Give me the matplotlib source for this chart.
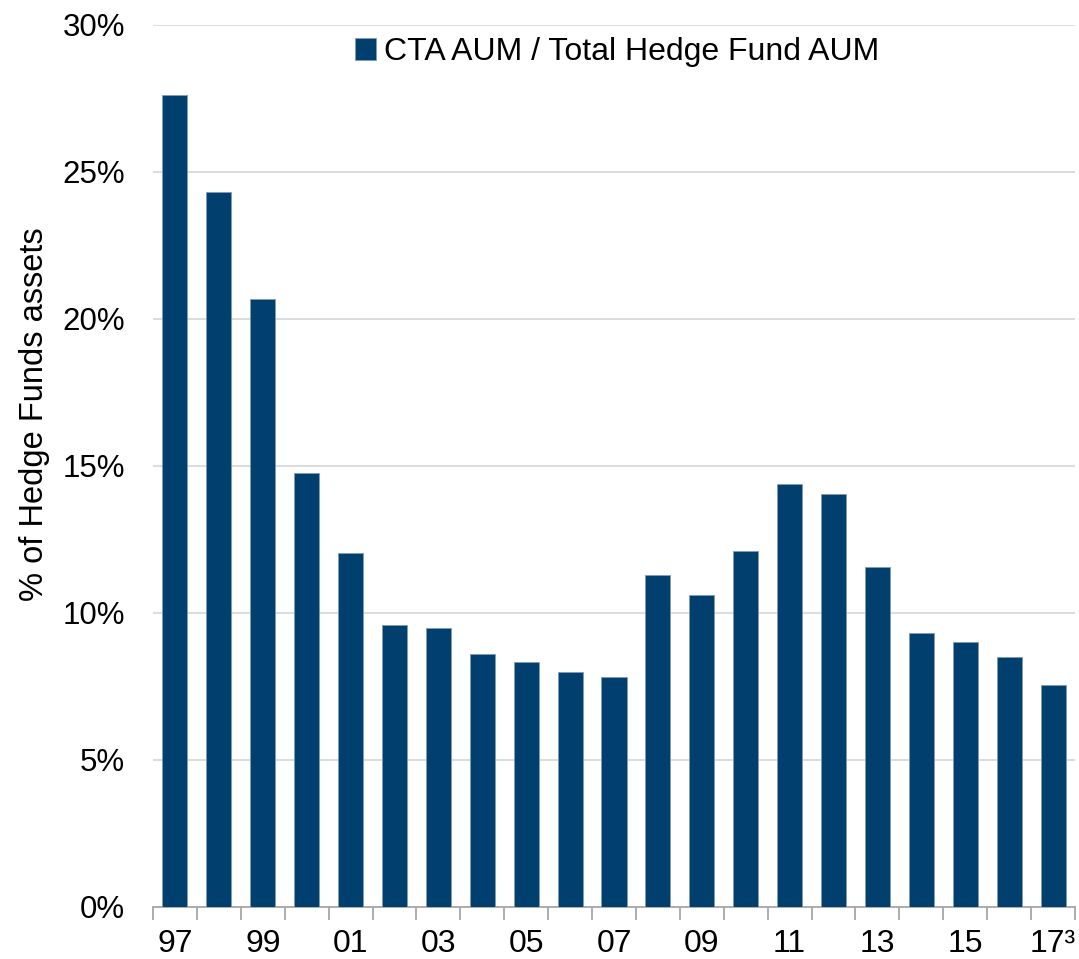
import matplotlib.pyplot as plt
import numpy as np

plt.rcParams['font.family'] = ['Liberation Sans', 'DejaVu Sans']

years = ['97', '98', '99', '00', '01', '02', '03', '04', '05', '06', '07',
         '08', '09', '10', '11', '12', '13', '14', '15', '16', '17³']
cta_share = [27.6, 24.3, 20.67, 14.74, 12.04, 9.58, 9.49, 8.59, 8.31, 7.99, 7.82,
             11.27, 10.59, 12.09, 14.37, 14.04, 11.57, 9.30, 9.00, 8.48, 7.54]
yticks = [0, 5, 10, 15, 20, 25, 30]

bar_color = '#003F6E'
grey = '#A6A6A6'

fig = plt.figure(figsize=(10.79, 9.59), dpi=100)
ax = fig.add_axes([0.1418, 0.0545, 0.8545, 0.9195])

x = np.arange(len(years))
ax.bar(x, cta_share, width=0.57, color=bar_color, edgecolor='#7F9BB5',
       linewidth=0.6, label='CTA AUM / Total Hedge Fund AUM', zorder=3)

ax.set_xlim(-0.5, len(years) - 0.5)
ax.set_ylim(0, 30)
ax.set_yticks(yticks)
ax.set_yticklabels([f'{t}%' for t in yticks], fontsize=22.5)
ax.tick_params(axis='y', length=0, pad=20)
ax.grid(axis='y', color='#D9D9D9', linewidth=1.3, zorder=0)

# boundary ticks, labels on every other category
ax.set_xticks(np.arange(-0.5, len(years), 1.0))
ax.set_xticklabels([])
ax.tick_params(axis='x', which='major', length=9, width=1.3, color=grey)
ax.set_xticks(x[::2], minor=True)
ax.set_xticklabels(years[::2], minor=True, fontsize=23)
ax.tick_params(axis='x', which='minor', length=0, pad=16)

for s in ['left', 'right', 'top']:
    ax.spines[s].set_visible(False)
ax.spines['bottom'].set_color(grey)
ax.spines['bottom'].set_linewidth(1.3)

fig.text(35 / 1079, 1 - 414 / 959, '% of Hedge Funds assets', rotation=90,
         fontsize=23.5, ha='center', va='center')

ax.legend(loc='center', bbox_to_anchor=(0.503, 0.969), frameon=False,
          fontsize=23, handlelength=0.65, handleheight=0.65, handletextpad=0.25,
          borderpad=0.1)

fig.savefig('out.png', dpi=100)
